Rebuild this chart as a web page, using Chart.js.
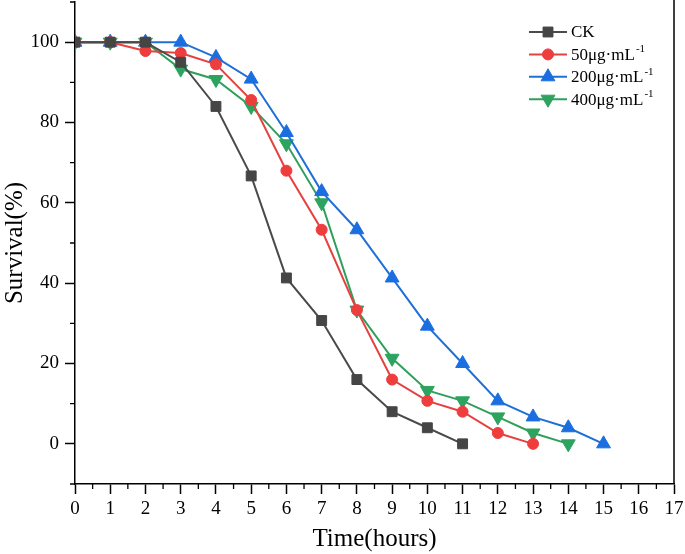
<!DOCTYPE html>
<html>
<head>
<meta charset="utf-8">
<script src="https://cdn.jsdelivr.net/npm/chart.js@4.4.1/dist/chart.umd.min.js"></script>
<style>
  html, body { margin: 0; padding: 0; background: #fff; }
  #wrap { width: 685px; height: 554px; }
</style>
</head>
<body>
<div id="wrap"><canvas id="chart"></canvas></div>
<script>
// survival data (hours 0..n)
const hours = [0, 1, 2, 3, 4, 5, 6, 7, 8, 9, 10, 11, 12, 13, 14, 15];
const ck = [100, 100, 100, 95, 84, 66.7, 41.3, 30.7, 16, 8, 4, 0];
const c50 = [100, 100, 97.8, 97.3, 94.5, 85.6, 68, 53.3, 33.3, 16, 10.7, 8, 2.7, 0];
const c200 = [100, 100, 100, 100, 96.2, 90.8, 77.5, 62.8, 53.3, 41.3, 29.3, 20, 10.7, 6.7, 4, 0];
const c400 = [100, 100, 100, 93.3, 90.7, 84, 74.7, 60, 33.3, 21.3, 13.3, 10.7, 6.7, 2.7, 0];

const seriesNames = ['CK', '50μg·mL', '200μg·mL', '400μg·mL'];
const seriesSup = ['', '-1', '-1', '-1'];

const serif = "'Liberation Serif', 'Times New Roman', serif";

function pts(vals) {
  return vals.map((v, i) => ({ x: hours[i], y: v }));
}

// minor ticks, right edge of the frame and the legend
const extras = {
  id: 'extras',
  afterDraw(chart) {
    const ctx = chart.ctx;
    const a = chart.chartArea;
    const xs = chart.scales.x, ys = chart.scales.y;
    ctx.save();
    ctx.strokeStyle = '#000';
    ctx.lineWidth = 1.5;
    ctx.beginPath();
    ctx.moveTo(a.right, 0);
    ctx.lineTo(a.right, a.bottom);
    ctx.stroke();
    // minor ticks
    ctx.lineWidth = 1.3;
    ctx.beginPath();
    for (let h = 0.5; h < 17; h += 1) {
      const px = xs.getPixelForValue(h);
      ctx.moveTo(px, a.bottom);
      ctx.lineTo(px, a.bottom + 5);
    }
    for (let v = -10; v <= 110; v += 20) {
      const py = ys.getPixelForValue(v);
      ctx.moveTo(a.left, py);
      ctx.lineTo(a.left - 5, py);
    }
    ctx.stroke();
    ctx.restore();

    // legend
    ctx.save();
    const lx0 = 529, lx1 = 567, ly0 = 32, dy = 22.4;
    chart.data.datasets.forEach((ds, i) => {
      const y = ly0 + i * dy;
      ctx.strokeStyle = ds.borderColor;
      ctx.lineWidth = 2;
      ctx.beginPath();
      ctx.moveTo(lx0, y);
      ctx.lineTo(lx1, y);
      ctx.stroke();
      ctx.fillStyle = ds.pointBackgroundColor;
      ctx.strokeStyle = ds.pointBackgroundColor;
      ctx.lineWidth = 1;
      Chart.helpers.drawPoint(ctx, {
        pointStyle: ds.pointStyle,
        radius: ds.pointRadius,
        rotation: ds.pointRotation || 0,
        borderWidth: 1
      }, (lx0 + lx1) / 2, y);
      ctx.fillStyle = '#000';
      ctx.textAlign = 'left';
      ctx.textBaseline = 'middle';
      ctx.font = '17px ' + serif;
      ctx.fillText(seriesNames[i], 571, y + 1);
      if (seriesSup[i]) {
        const w = ctx.measureText(seriesNames[i]).width;
        ctx.font = '11px ' + serif;
        ctx.fillText(seriesSup[i], 571 + w + 1, y - 5);
      }
    });
    ctx.restore();
  }
};

const ctx = document.getElementById('chart').getContext('2d');
const chart = new Chart(ctx, {
  type: 'line',
  data: {
    datasets: [
      {
        label: 'CK', data: pts(ck),
        borderColor: '#4a4a4a', backgroundColor: '#454545',
        pointBackgroundColor: '#454545', pointBorderColor: '#454545',
        pointStyle: 'rect', pointRadius: 7
      },
      {
        label: '50μg·mL-1', data: pts(c50),
        borderColor: '#e6403f', backgroundColor: '#ee3d3d',
        pointBackgroundColor: '#ee3d3d', pointBorderColor: '#ee3d3d',
        pointStyle: 'circle', pointRadius: 5.5
      },
      {
        label: '200μg·mL-1', data: pts(c200),
        borderColor: '#1f6fd8', backgroundColor: '#1b6ee0',
        pointBackgroundColor: '#1b6ee0', pointBorderColor: '#1b6ee0',
        pointStyle: 'triangle', pointRadius: 8
      },
      {
        label: '400μg·mL-1', data: pts(c400),
        borderColor: '#2f9f5c', backgroundColor: '#2ca35e',
        pointBackgroundColor: '#2ca35e', pointBorderColor: '#2ca35e',
        pointStyle: 'triangle', pointRotation: 180, pointRadius: 8
      }
    ]
  },
  options: {
    responsive: true,
    maintainAspectRatio: false,
    animation: false,
    layout: { autoPadding: false, padding: { top: 2, right: 0, left: 0, bottom: 0 } },
    elements: {
      line: { borderWidth: 2, tension: 0 },
      point: { borderWidth: 1, hoverRadius: 8 }
    },
    plugins: {
      legend: { display: false },
      tooltip: { enabled: false }
    },
    scales: {
      x: {
        type: 'linear',
        min: 0, max: 17,
        afterFit: s => { s.height = 70; s.paddingLeft = 0; s.paddingRight = 11; },
        ticks: {
          stepSize: 1,
          color: '#000',
          font: { family: serif, size: 19 },
          padding: 4,
          maxRotation: 0
        },
        grid: { drawOnChartArea: false, tickLength: 10, tickColor: '#000', tickWidth: 1.5 },
        border: { color: '#000', width: 1.5 },
        title: {
          display: true, text: 'Time(hours)', color: '#000',
          font: { family: serif, size: 25 },
          padding: { top: 0, bottom: 0 }
        }
      },
      y: {
        min: -10, max: 110,
        afterFit: s => { s.width = 75; s.paddingTop = 0; s.paddingBottom = 0; },
        ticks: {
          stepSize: 10,
          color: '#000',
          font: { family: serif, size: 19 },
          padding: 6,
          callback: v => (v >= 0 && v <= 100 && v % 20 === 0) ? v : ''
        },
        grid: {
          drawOnChartArea: false, tickLength: 10, tickWidth: 1.5,
          tickColor: c => (c.tick && c.tick.value >= 0 && c.tick.value <= 100 && c.tick.value % 20 === 0) ? '#000' : 'rgba(0,0,0,0)'
        },
        border: { color: '#000', width: 1.5 },
        title: {
          display: true, text: 'Survival(%)', color: '#000',
          font: { family: serif, size: 25 },
          padding: { top: 0, bottom: 0 }
        }
      }
    }
  },
  plugins: [extras]
});
</script>
</body>
</html>
